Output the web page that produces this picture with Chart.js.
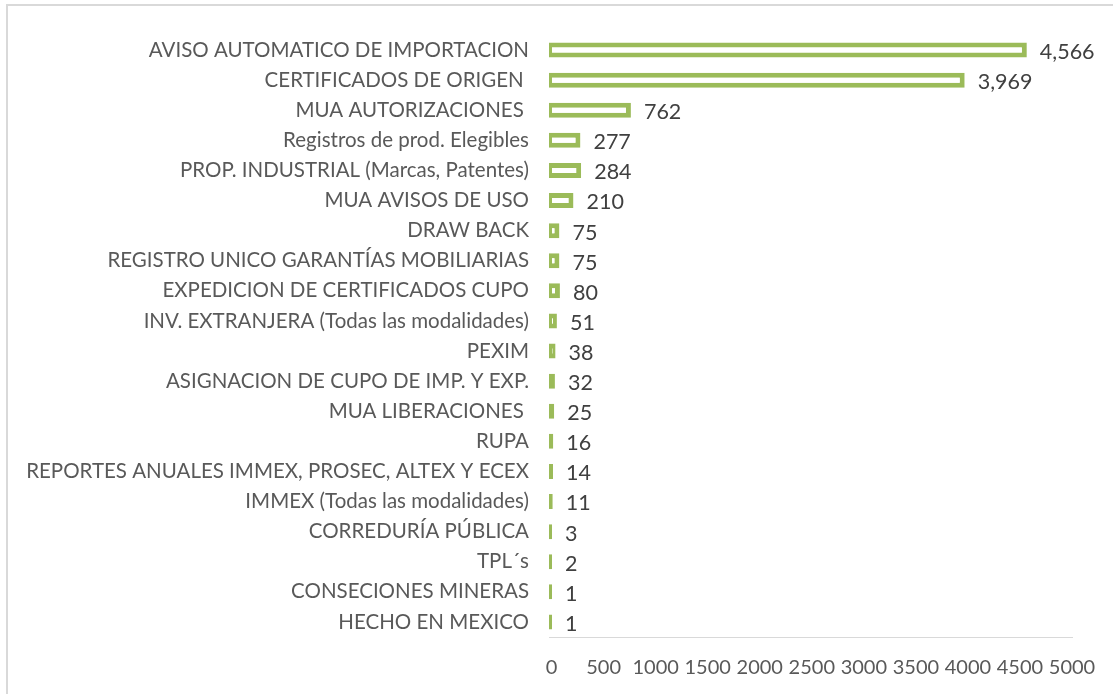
<!DOCTYPE html>
<html>
<head>
<meta charset="utf-8">
<script src="https://cdn.jsdelivr.net/npm/chart.js@4/dist/chart.umd.min.js"></script>
<style>
  html, body { margin: 0; padding: 0; background: #fff; overflow: hidden; }
  #wrap { position: relative; width: 1113px; height: 694px; }
  #frame {
    position: absolute; left: 6px; top: 4px; width: 1200px; height: 800px;
    border: 2px solid #d9d9d9; pointer-events: none;
  }
</style>
</head>
<body>
<div id="wrap">
  <canvas id="tramites" width="1113" height="694"></canvas>
  <div id="frame"></div>
</div>
<script>
// data, top to bottom
const categories = [
  'AVISO AUTOMATICO DE IMPORTACION',
  'CERTIFICADOS DE ORIGEN ',
  'MUA AUTORIZACIONES ',
  'Registros de prod. Elegibles',
  'PROP. INDUSTRIAL (Marcas, Patentes)',
  'MUA AVISOS DE USO',
  'DRAW BACK',
  'REGISTRO UNICO GARANTÍAS MOBILIARIAS',
  'EXPEDICION DE CERTIFICADOS CUPO',
  'INV. EXTRANJERA (Todas las modalidades)',
  'PEXIM',
  'ASIGNACION DE CUPO DE IMP. Y EXP.',
  'MUA LIBERACIONES ',
  'RUPA',
  'REPORTES ANUALES IMMEX, PROSEC, ALTEX Y ECEX',
  'IMMEX (Todas las modalidades)',
  'CORREDURÍA PÚBLICA',
  'TPL´s',
  'CONSECIONES MINERAS',
  'HECHO EN MEXICO'
];
const values = [4566, 3969, 762, 277, 284, 210, 75, 75, 80, 51, 38, 32, 25, 16, 14, 11, 3, 2, 1, 1];
const xTicks = [0, 500, 1000, 1500, 2000, 2500, 3000, 3500, 4000, 4500, 5000];

const green = '#9BBB59';
const fontFamily = 'Lato, "Open Sans", sans-serif';
// bars are drawn from a little left of zero, like the outline in the original
const barBase = -25;

// value labels at the end of each bar
const valueLabels = {
  id: 'valueLabels',
  afterDatasetsDraw(chart) {
    const ctx = chart.ctx;
    const meta = chart.getDatasetMeta(0);
    ctx.save();
    ctx.font = '21.5px ' + fontFamily;
    ctx.fillStyle = '#404040';
    ctx.textAlign = 'left';
    ctx.textBaseline = 'middle';
    meta.data.forEach((bar, i) => {
      ctx.fillText(values[i].toLocaleString('en-US'), bar.x + 13, bar.y + 2);
    });
    ctx.restore();
  }
};

new Chart(document.getElementById('tramites'), {
  type: 'bar',
  data: {
    labels: categories,
    datasets: [{
      data: values,
      base: barBase,
      backgroundColor: '#ffffff',
      borderColor: green,
      borderWidth: { top: 5, bottom: 5, left: 3, right: 5 },
      borderSkipped: false,
      barThickness: 15,
      minBarLength: 3,
      inflateAmount: 0
    }]
  },
  options: {
    indexAxis: 'y',
    responsive: false,
    animation: false,
    layout: { padding: { top: 35, right: 41, left: 0, bottom: 0 } },
    plugins: {
      legend: { display: false },
      tooltip: { enabled: false }
    },
    scales: {
      x: {
        min: barBase,
        max: 5000,
        afterBuildTicks(scale) {
          scale.ticks = xTicks.map((v) => ({ value: v }));
        },
        afterFit(scale) { scale.height = 694 - 637; },
        grid: { display: false },
        border: { display: true, color: '#d9d9d9', width: 1 },
        ticks: {
          color: '#595959',
          font: { family: fontFamily, size: 20 },
          padding: 11,
          maxRotation: 0,
          autoSkip: false,
          callback: (v) => String(v)
        }
      },
      y: {
        afterFit(scale) { scale.width = 549; },
        grid: { display: false },
        border: { display: false },
        ticks: {
          color: '#595959',
          font: { family: fontFamily, size: 20.5 },
          padding: 12,
          autoSkip: false
        }
      }
    }
  },
  plugins: [valueLabels]
});
</script>
</body>
</html>
